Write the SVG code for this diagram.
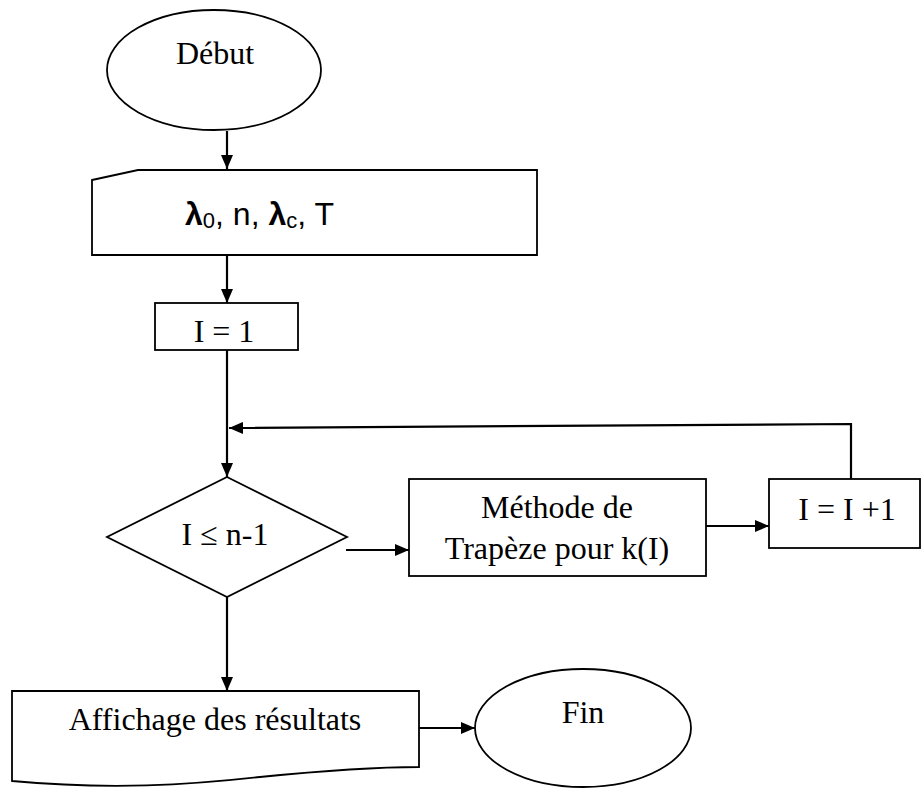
<svg xmlns="http://www.w3.org/2000/svg" width="921" height="788" viewBox="0 0 921 788">
  <style>
    .shape { fill: #ffffff; stroke: #000000; stroke-width: 1.8; }
    .wire { fill: none; stroke: #000000; stroke-width: 2.2; }
    .lbl { font-family: "Liberation Serif", "Times New Roman", serif; font-size: 32px; fill: #000000; text-anchor: middle; }
    .sans { font-family: "Liberation Sans", Arial, sans-serif; font-size: 32px; fill: #000000; }
  </style>
  <defs>
    <marker id="arrow" markerWidth="14" markerHeight="12" refX="14" refY="6" orient="auto" markerUnits="userSpaceOnUse">
      <path d="M0,0 L14,6 L0,12 Z" fill="#000000"/>
    </marker>
  </defs>
  <rect width="921" height="788" fill="#ffffff"/>

  <!-- flow connectors -->
  <g id="connectors">
    <line class="wire" x1="227" y1="131" x2="227" y2="169" marker-end="url(#arrow)"/>
    <line class="wire" x1="227" y1="255" x2="227" y2="303" marker-end="url(#arrow)"/>
    <line class="wire" x1="227" y1="350" x2="227" y2="477" marker-end="url(#arrow)"/>
    <polyline class="wire" points="851,479 851,424 229,428" marker-end="url(#arrow)"/>
    <line class="wire" x1="346" y1="550" x2="409" y2="550" marker-end="url(#arrow)"/>
    <line class="wire" x1="706" y1="526" x2="769" y2="526" marker-end="url(#arrow)"/>
    <line class="wire" x1="227" y1="597" x2="227" y2="691" marker-end="url(#arrow)"/>
    <line class="wire" x1="419" y1="728" x2="475" y2="728" marker-end="url(#arrow)"/>
  </g>

  <g id="debut">
    <ellipse class="shape" cx="214" cy="70" rx="107" ry="60"/>
    <text class="lbl" x="215" y="64">Début</text>
  </g>

  <!-- manual input block -->
  <g id="saisie">
    <path class="shape" d="M92,180 L138,170 L537,170 L537,255 L92,255 Z"/>
    <text class="sans" x="185" y="225"><tspan font-weight="bold">λ</tspan><tspan font-size="22" dy="3">0</tspan><tspan dy="-3">, n, </tspan><tspan font-weight="bold">λ</tspan><tspan font-size="22" dy="3">c</tspan><tspan dy="-3">, T</tspan></text>
  </g>

  <g id="init">
    <rect class="shape" x="155" y="303" width="143" height="47"/>
    <text class="lbl" x="224" y="342">I = 1</text>
  </g>

  <g id="test">
    <polygon class="shape" points="227,477 347,537 227,597 107,537"/>
    <text class="lbl" x="225" y="545">I ≤ n-1</text>
  </g>

  <g id="trapeze">
    <rect class="shape" x="409" y="479" width="297" height="97"/>
    <text class="lbl" x="557" y="518">Méthode de</text>
    <text class="lbl" x="557" y="559">Trapèze pour k(I)</text>
  </g>

  <g id="increment">
    <rect class="shape" x="769" y="479" width="151" height="69"/>
    <text class="lbl" x="847" y="520">I = I +1</text>
  </g>

  <!-- document block with wavy bottom edge -->
  <g id="affichage">
    <path class="shape" d="M12,691 L419,691 L419,767 C380,767 330,770 260,777 C190,785 110,790 12,781 Z"/>
    <text class="lbl" x="215" y="730">Affichage des résultats</text>
  </g>

  <g id="fin">
    <ellipse class="shape" cx="583" cy="728" rx="108" ry="59"/>
    <text class="lbl" x="583" y="723">Fin</text>
  </g>
</svg>
